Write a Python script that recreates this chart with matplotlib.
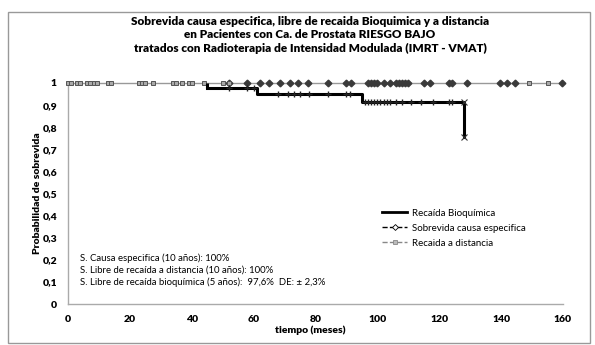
import matplotlib
matplotlib.use("Agg")
import matplotlib.pyplot as plt
from matplotlib.lines import Line2D
from matplotlib.patches import Rectangle

plt.rcParams['font.family'] = ['Lato', 'DejaVu Sans']

# datos leidos del grafico
# recaida bioquimica: tiempos de evento y supervivencia
t_bq = [0, 45, 61, 95, 128]
s_bq = [1.0, 0.976, 0.948, 0.912, 0.756]
# censuras de recaida bioquimica (tiempo, nivel)
cens_bq_t = [52, 58, 60, 68, 71, 73, 75, 78, 84, 90, 91,
             96, 97, 98, 99, 100, 101, 102, 103, 104, 106, 108, 111, 114, 118, 123, 124]
cens_bq_s = [0.976, 0.976, 0.976, 0.948, 0.948, 0.948, 0.948, 0.948, 0.948, 0.948, 0.948,
             0.912, 0.912, 0.912, 0.912, 0.912, 0.912, 0.912, 0.912, 0.912, 0.912, 0.912,
             0.912, 0.912, 0.912, 0.912, 0.912]

# sobrevida causa especifica (siempre 1)
t_ce = [0, 160]
s_ce = [1.0, 1.0]
cens_ce = [52, 58, 62, 65, 68.5, 71.7, 74.3, 77.5, 84, 90, 91.5, 97, 98, 99, 100, 102,
           104, 106, 107, 108, 109, 110, 115, 117, 123, 124, 129, 139.6, 142, 144.4, 159.6]

# recaida a distancia (siempre 1)
t_rd = [0, 160]
s_rd = [1.0, 1.0]
cens_rd = [0, 1, 3, 4, 6, 7, 8.5, 9.5, 13, 14, 23, 24, 25, 27.5, 34, 35, 37, 39, 40,
           44, 50, 52, 149, 155]

xticks = [0, 20, 40, 60, 80, 100, 120, 140, 160]
yticks = [0, 0.1, 0.2, 0.3, 0.4, 0.5, 0.6, 0.7, 0.8, 0.9, 1]
ylabels = ['0', '0,1', '0,2', '0,3', '0,4', '0,5', '0,6', '0,7', '0,8', '0,9', '1']

titulo = ("Sobrevida causa especifica, libre de recaida Bioquimica y a distancia\n"
          "en Pacientes con Ca. de Prostata RIESGO BAJO\n"
          "tratados con Radioterapia de Intensidad Modulada (IMRT - VMAT)")
notas = ["S. Causa especifica (10 años): 100%",
         "S. Libre de recaída a distancia (10 años): 100%",
         "S. Libre de recaída bioquímica (5 años):  97,6%  DE: ± 2,3%"]

fig = plt.figure(figsize=(5.95, 3.45), dpi=100)
fig.patches.append(Rectangle((8 / 595, 2 / 345), 582 / 595, 331 / 345,
                             transform=fig.transFigure, fill=False,
                             edgecolor='#999999', linewidth=1))

ax = fig.add_axes([68 / 595, 1 - 304 / 345, 495 / 595, 221 / 345])

# linea superior (distancia y causa especifica)
ax.plot(t_rd, s_rd, color='#999999', lw=1, clip_on=False, zorder=2)
ax.plot(cens_ce, [1] * len(cens_ce), ls='none', marker='D', ms=3.4,
        color='#3a3a3a', clip_on=False, zorder=3)
ax.plot(cens_rd, [1] * len(cens_rd), ls='none', marker='s', ms=3.4,
        mfc='#aaaaaa', mec='#555555', mew=0.7, clip_on=False, zorder=3)

# recaida bioquimica (el tramo inicial en 1 queda oculto bajo la linea superior)
ax.step(t_bq[1:], s_bq[1:], where='post', color='black', lw=2.2, clip_on=False, zorder=4)
ax.vlines(t_bq[1], s_bq[1], s_bq[0], color='black', lw=2.2, zorder=4)
ax.plot(cens_bq_t, cens_bq_s, ls='none', marker='+', ms=4, mew=1,
        color='#222222', clip_on=False, zorder=5)
ax.plot([t_bq[-1], t_bq[-1]], [s_bq[-2], s_bq[-1]], ls='none', marker='x', ms=4,
        mew=0.8, color='#333333', clip_on=False, zorder=5)

ax.set_xlim(0, 160)
ax.set_ylim(0, 1)
ax.set_xticks(xticks)
ax.set_yticks(yticks)
ax.set_yticklabels(ylabels)
for lab in ax.get_xticklabels() + ax.get_yticklabels():
    lab.set_fontweight('heavy')
    lab.set_fontsize(7.5)
ax.tick_params(length=0, pad=8)
for s in ['top', 'right']:
    ax.spines[s].set_visible(False)
for s in ['left', 'bottom']:
    ax.spines[s].set_color('#aaaaaa')
    ax.spines[s].set_linewidth(1)

ax.set_xlabel('tiempo (meses)', fontsize=7.5, fontweight='heavy', va='center')
ax.xaxis.set_label_coords(0.49, -26 / 221)
ax.set_ylabel('Probabilidad de sobrevida', fontsize=7.5, fontweight='heavy', va='center')
ax.yaxis.set_label_coords(-30 / 495, 0.5)

fig.text(310 / 595, 1 - 35 / 345, titulo, ha='center', va='center',
         fontsize=8.5, fontweight='heavy', linespacing=1.25)

for i, n in enumerate(notas):
    fig.text(80 / 595, 1 - (258 + 12 * i) / 345, n, fontsize=6.9, va='center')

handles = [
    Line2D([], [], color='black', lw=2),
    Line2D([], [], color='black', lw=1, ls='--', marker='D', ms=3,
           mfc='white', mec='black', mew=0.6),
    Line2D([], [], color='#888888', lw=1, ls='--', marker='s', ms=3,
           mfc='#bbbbbb', mec='#888888', mew=0.6),
]
fig.legend(handles, ['Recaída Bioquímica', 'Sobrevida causa especifica', 'Recaida a distancia'],
           loc='upper left', bbox_to_anchor=(378 / 595, 1 - 205 / 345),
           frameon=False, fontsize=7, handlelength=2.6, handletextpad=0.5,
           labelspacing=0.6, borderaxespad=0)

fig.savefig('out.png', dpi=100)
